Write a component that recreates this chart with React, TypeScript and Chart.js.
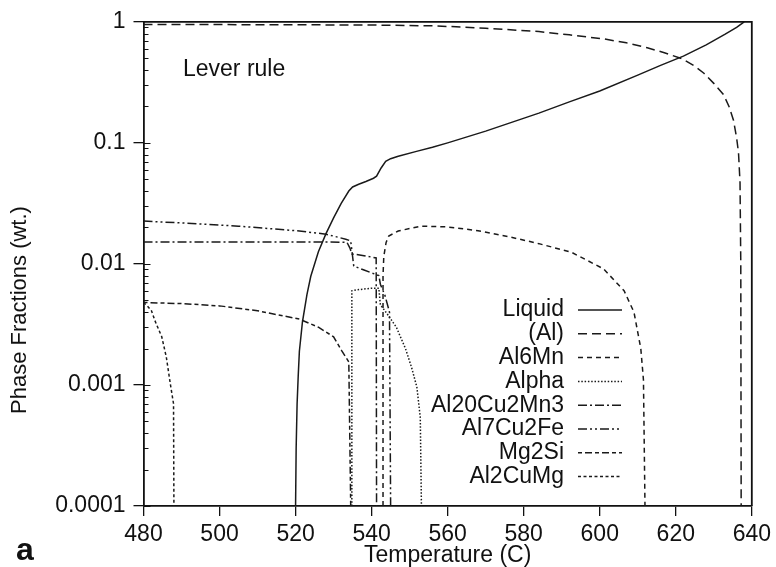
import React, { useEffect, useRef } from "react";
import { Chart, registerables } from "chart.js";

Chart.register(...registerables);

// ---------- data ----------
const X_TICKS = [480, 500, 520, 540, 560, 580, 600, 620, 640];
const Y_TICKS = [0.0001, 0.001, 0.01, 0.1, 1];
const Y_TICK_LABELS = ["0.0001", "0.001", "0.01", "0.1", "1"];

const SERIES_NAMES = ["Liquid", "(Al)", "Al6Mn", "Alpha", "Al20Cu2Mn3", "Al7Cu2Fe", "Mg2Si", "Al2CuMg"];

const T_LIQUID = [520, 520.15, 520.4, 520.7, 521, 521.8, 523, 524, 526, 528, 530, 532, 534, 535, 536.6, 538.5, 540.5, 541.3, 542.5, 543.7, 545, 547, 551.8, 556, 560, 570, 584, 592, 600, 610, 616, 622, 628, 633, 636, 638];
const F_LIQUID = [0.0001, 0.0003, 0.0007, 0.0012, 0.0019, 0.0033, 0.0056, 0.0079, 0.0126, 0.0178, 0.024, 0.0316, 0.04, 0.0432, 0.0455, 0.048, 0.051, 0.053, 0.062, 0.0704, 0.074, 0.0774, 0.085, 0.092, 0.1, 0.125, 0.176, 0.218, 0.268, 0.363, 0.437, 0.52, 0.645, 0.79, 0.9, 1.0];

const T_AL = [480, 500, 520, 540, 557, 570, 584, 592, 601, 607, 612.5, 617, 621.7, 625, 627.4, 630, 632.6, 634, 635.2, 636, 636.5, 636.9, 637.1, 637.2];
const F_AL = [0.95, 0.948, 0.945, 0.94, 0.925, 0.885, 0.83, 0.78, 0.723, 0.67, 0.61, 0.555, 0.495, 0.43, 0.376, 0.31, 0.249, 0.2, 0.153, 0.11, 0.083, 0.047, 0.01, 0.0001];

const T_AL6MN = [543.0, 543.0, 543.2, 543.8, 544.5, 547, 553, 560, 568, 576, 584, 592.5, 601, 606.4, 609, 610.8, 611.5, 611.9];
const F_AL6MN = [0.0001, 0.008, 0.0115, 0.015, 0.017, 0.0187, 0.0205, 0.0202, 0.0188, 0.0168, 0.0147, 0.0125, 0.0091, 0.006, 0.004, 0.002, 0.0011, 0.0001];

const T_ALPHA = [534.8, 534.8, 536, 538, 540, 541.9, 542.3, 544, 546.5, 548.9, 550.5, 551.9, 552.8, 553.1];
const F_ALPHA = [0.0001, 0.006, 0.0061, 0.0062, 0.0063, 0.0063, 0.0046, 0.0039, 0.003, 0.002, 0.0014, 0.00096, 0.00054, 0.0001];

const T_AL20 = [480, 500, 520, 533.5, 534.3, 534.8, 538, 541.2, 541.3];
const F_AL20 = [0.0152, 0.0152, 0.0152, 0.0151, 0.0135, 0.0121, 0.0117, 0.0112, 0.0001];

const T_AL7 = [480, 490, 505, 521, 528, 533.2, 534.5, 535.3, 538, 541.9, 542.3, 543.5, 544.7, 545];
const F_AL7 = [0.0226, 0.0218, 0.0205, 0.0187, 0.0176, 0.016, 0.0155, 0.0096, 0.0089, 0.008, 0.0068, 0.0055, 0.004, 0.0001];

const T_MG2SI = [480, 490, 500, 510, 521, 526, 530, 532.2, 534, 534.5];
const F_MG2SI = [0.0048, 0.0047, 0.0045, 0.0041, 0.0035, 0.003, 0.0025, 0.0019, 0.00155, 0.0001];

const T_AL2CUMG = [480, 481, 482.1, 483, 484.8, 486, 487.1, 487.9, 488];
const F_AL2CUMG = [0.0048, 0.0045, 0.0041, 0.0034, 0.0025, 0.0017, 0.001, 0.0007, 0.0001];

const SERIES_T = [T_LIQUID, T_AL, T_AL6MN, T_ALPHA, T_AL20, T_AL7, T_MG2SI, T_AL2CUMG];
const SERIES_F = [F_LIQUID, F_AL, F_AL6MN, F_ALPHA, F_AL20, F_AL7, F_MG2SI, F_AL2CUMG];

// ---------- styles ----------
const DASHES: number[][] = [[], [9, 5], [5, 4], [1.5, 1.8], [9, 3, 2, 3], [9, 3, 2, 3, 2, 3], [4, 3, 7, 3], [3, 2.5]];
const LINE_COLOR = "#1a1a1a";
const FONT = '"Liberation Sans", Arial, Helvetica, sans-serif';

const decorPlugin = {
  id: "decor",
  afterDraw(chart: any) {
    const { ctx, chartArea: a, scales } = chart;
    const y = scales.y;
    ctx.save();
    ctx.strokeStyle = "#111";
    ctx.lineWidth = 1.8;
    ctx.beginPath();
    ctx.moveTo(a.left, a.top);
    ctx.lineTo(a.right, a.top);
    ctx.lineTo(a.right, a.bottom);
    ctx.stroke();
    // inward minor ticks on y
    ctx.lineWidth = 1;
    ctx.beginPath();
    for (let e = -4; e < 0; e++) {
      for (let m = 1; m < 10; m++) {
        const py = Math.round(y.getPixelForValue(m * Math.pow(10, e))) + 0.5;
        const len = m === 1 ? 7 : 5;
        ctx.moveTo(a.left, py);
        ctx.lineTo(a.left + len, py);
      }
    }
    ctx.stroke();

    // legend
    ctx.fillStyle = "#111";
    ctx.font = `23px ${FONT}`;
    ctx.textAlign = "right";
    ctx.textBaseline = "middle";
    chart.data.datasets.forEach((ds: any, i: number) => {
      const cy = 310 + i * 23.8;
      ctx.fillText(ds.label, 564, cy);
      ctx.save();
      ctx.strokeStyle = LINE_COLOR;
      ctx.lineWidth = 1.5;
      ctx.setLineDash(ds.borderDash || []);
      ctx.beginPath();
      ctx.moveTo(578, cy);
      ctx.lineTo(622, cy);
      ctx.stroke();
      ctx.restore();
    });

    // texts
    ctx.textAlign = "left";
    ctx.fillText("Lever rule", 183, 70);
    ctx.textAlign = "center";
    ctx.fillText("Temperature (C)", (a.left + a.right) / 2, 556);
    ctx.save();
    ctx.translate(20, 310);
    ctx.rotate(-Math.PI / 2);
    ctx.font = `22px ${FONT}`;
    ctx.fillText("Phase Fractions (wt.)", 0, 0);
    ctx.restore();
    ctx.font = `bold 32px ${FONT}`;
    ctx.textAlign = "left";
    ctx.textBaseline = "alphabetic";
    ctx.fillText("a", 16, 560);
    ctx.restore();
  },
};

export default function App() {
  const ref = useRef<HTMLCanvasElement>(null);
  useEffect(() => {
    if (!ref.current) return;
    const datasets = SERIES_NAMES.map((name, i) => ({
      label: name,
      data: SERIES_T[i].map((t, j) => ({ x: t, y: SERIES_F[i][j] })),
      borderColor: LINE_COLOR,
      borderWidth: 1.5,
      borderDash: DASHES[i],
      pointRadius: 0,
      tension: 0,
      fill: false,
    }));
    const chart = new Chart(ref.current, {
      type: "line",
      data: { datasets },
      plugins: [decorPlugin],
      options: {
        animation: false,
        responsive: false,
        devicePixelRatio: 1,
        layout: { padding: { left: 0, top: 20, right: 21, bottom: 0 } },
        plugins: { legend: { display: false }, tooltip: { enabled: false } },
        scales: {
          x: {
            type: "linear",
            min: 480,
            max: 640,
            afterBuildTicks: (s: any) => {
              s.ticks = X_TICKS.map((v) => ({ value: v }));
            },
            afterFit: (s: any) => {
              s.height = 61;
            },
            ticks: {
              font: { size: 23, family: FONT },
              color: "#111",
              padding: 5,
              maxRotation: 0,
              autoSkip: false,
            },
            grid: { drawOnChartArea: false, tickLength: 10, color: "#111", lineWidth: 1.3 },
            border: { color: "#111", width: 1.8 },
          },
          y: {
            type: "logarithmic",
            min: 0.0001,
            max: 1,
            afterBuildTicks: (s: any) => {
              s.ticks = Y_TICKS.map((v) => ({ value: v }));
            },
            afterFit: (s: any) => {
              s.width = 143.5;
            },
            ticks: {
              font: { size: 23, family: FONT },
              color: "#111",
              padding: 8,
              autoSkip: false,
              callback: (v: any) => {
                const k = Y_TICKS.findIndex((t) => Math.abs(Math.log10(t) - Math.log10(v)) < 1e-6);
                return k >= 0 ? Y_TICK_LABELS[k] : "";
              },
            },
            grid: { drawOnChartArea: false, tickLength: 10, color: "#111", lineWidth: 1.3 },
            border: { color: "#111", width: 1.8 },
          },
        },
      } as any,
    });
    return () => chart.destroy();
  }, []);
  return (
    <div style={{ position: "absolute", left: 0, top: 0, width: 776, height: 567, background: "#fff" }}>
      <canvas ref={ref} width={776} height={567} style={{ display: "block" }} />
    </div>
  );
}
